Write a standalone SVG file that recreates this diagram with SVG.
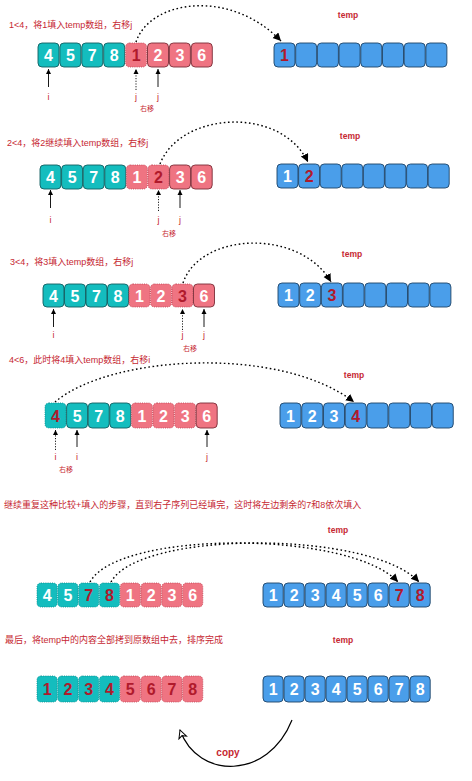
<svg xmlns="http://www.w3.org/2000/svg" width="472" height="781" viewBox="0 0 472 781">
<defs>
<style>
.bg{fill:#ffffff}
.lbl{font-family:"Liberation Sans","Noto Sans CJK SC",sans-serif;font-size:9px;fill:#C62832}
.tmp{font-family:"Liberation Sans",Arial,sans-serif;font-size:8.5px;font-weight:bold;fill:#C62832;text-anchor:middle}
.ij{font-family:"Liberation Sans",Arial,sans-serif;font-size:9px;fill:#C62832;text-anchor:middle}
.yi{font-family:"Liberation Sans","Noto Sans CJK SC",sans-serif;font-size:7px;fill:#C62832;text-anchor:middle}
.cp{font-family:"Liberation Sans",Arial,sans-serif;font-size:10px;font-weight:bold;fill:#C62832;text-anchor:middle}
.t{fill:#14BDBE;stroke:#125E60;stroke-width:0.9}
.td{fill:#14BDBE;stroke:#0E8E90;stroke-width:0.9;stroke-dasharray:1 1.2}
.p{fill:#EF7482;stroke:#7A2E38;stroke-width:0.9}
.pd{fill:#EF7482;stroke:#C24B5A;stroke-width:0.9;stroke-dasharray:1 1.2}
.b{fill:#4A9EEA;stroke:#1E4468;stroke-width:0.9}
.n{font-family:"Liberation Sans",Arial,sans-serif;font-size:16px;font-weight:bold;fill:#ffffff;text-anchor:middle}
.r{fill:#B01A2C}
.ptr{stroke:#000;stroke-width:0.9;fill:none;marker-end:url(#ah)}
.ptrd{stroke:#000;stroke-width:0.9;fill:none;stroke-dasharray:1.2 1.5;marker-end:url(#ah)}
.dc{stroke:#000;stroke-width:1.4;fill:none;stroke-dasharray:1.6 2.6;marker-end:url(#big)}
.cpa{stroke:#000;stroke-width:1.2;fill:none;marker-end:url(#open)}
</style>
<marker id="ah" markerUnits="userSpaceOnUse" markerWidth="6" markerHeight="6" refX="5" refY="3" orient="auto"><path d="M0,0.5 L5,3 L0,5.5 z" fill="#000"/></marker>
<marker id="big" markerUnits="userSpaceOnUse" markerWidth="10" markerHeight="10" refX="8" refY="4" orient="auto"><path d="M0,0 L8,4 L0,8 z" fill="#000"/></marker>
<marker id="open" markerUnits="userSpaceOnUse" markerWidth="12" markerHeight="12" refX="9" refY="5" orient="auto"><path d="M1,1 L9,5 L1,9 L3,5 z" fill="#fff" stroke="#000" stroke-width="1"/></marker>
</defs>
<rect class="bg" width="472" height="781"/>

<g id="labels">
<text class="lbl" x="9" y="28">1&lt;4，将1填入temp数组，右移j</text>
<text class="lbl" x="7" y="146">2&lt;4，将2继续填入temp数组，右移j</text>
<text class="lbl" x="10" y="265">3&lt;4，将3填入temp数组，右移j</text>
<text class="lbl" x="9" y="363">4&lt;6，此时将4填入temp数组，右移i</text>
<text class="lbl" x="4" y="508">继续重复这种比较+填入的步骤，直到右子序列已经填完，这时将左边剩余的7和8依次填入</text>
<text class="lbl" x="5" y="643">最后，将temp中的内容全部拷到原数组中去，排序完成</text>
<text class="tmp" x="348" y="18">temp</text>
<text class="tmp" x="350" y="139">temp</text>
<text class="tmp" x="352" y="257">temp</text>
<text class="tmp" x="354" y="378">temp</text>
<text class="tmp" x="338" y="533">temp</text>
<text class="tmp" x="343" y="643">temp</text>
</g>

<!-- Row 1 -->
<g id="row1-src">
<rect class="t" x="38" y="43" width="21" height="24" rx="4"/><text class="n" x="48.5" y="61">4</text>
<rect class="t" x="59.9" y="43" width="21" height="24" rx="4"/><text class="n" x="70.4" y="61">5</text>
<rect class="t" x="81.8" y="43" width="21" height="24" rx="4"/><text class="n" x="92.3" y="61">7</text>
<rect class="t" x="103.7" y="43" width="21" height="24" rx="4"/><text class="n" x="114.2" y="61">8</text>
<rect class="pd" x="125.6" y="43" width="21" height="24" rx="4"/><text class="n r" x="136.1" y="61">1</text>
<rect class="p" x="147.5" y="43" width="21" height="24" rx="4"/><text class="n" x="158" y="61">2</text>
<rect class="p" x="169.4" y="43" width="21" height="24" rx="4"/><text class="n" x="179.9" y="61">3</text>
<rect class="p" x="191.3" y="43" width="21" height="24" rx="4"/><text class="n" x="201.8" y="61">6</text>
</g>
<g id="row1-temp">
<rect class="b" x="274" y="43" width="21" height="24" rx="4"/><text class="n r" x="284.5" y="61">1</text>
<rect class="b" x="295.7" y="43" width="21" height="24" rx="4"/>
<rect class="b" x="317.4" y="43" width="21" height="24" rx="4"/>
<rect class="b" x="339.1" y="43" width="21" height="24" rx="4"/>
<rect class="b" x="360.8" y="43" width="21" height="24" rx="4"/>
<rect class="b" x="382.5" y="43" width="21" height="24" rx="4"/>
<rect class="b" x="404.2" y="43" width="21" height="24" rx="4"/>
<rect class="b" x="425.9" y="43" width="21" height="24" rx="4"/>
</g>

<!-- Row 2 -->
<g id="row2-src">
<rect class="t" x="40" y="165" width="21" height="24" rx="4"/><text class="n" x="50.5" y="183">4</text>
<rect class="t" x="61.6" y="165" width="21" height="24" rx="4"/><text class="n" x="72.1" y="183">5</text>
<rect class="t" x="83.2" y="165" width="21" height="24" rx="4"/><text class="n" x="93.7" y="183">7</text>
<rect class="t" x="104.8" y="165" width="21" height="24" rx="4"/><text class="n" x="115.3" y="183">8</text>
<rect class="pd" x="126.4" y="165" width="21" height="24" rx="4"/><text class="n" x="136.9" y="183">1</text>
<rect class="pd" x="148" y="165" width="21" height="24" rx="4"/><text class="n r" x="158.5" y="183">2</text>
<rect class="p" x="169.6" y="165" width="21" height="24" rx="4"/><text class="n" x="180.1" y="183">3</text>
<rect class="p" x="191.2" y="165" width="21" height="24" rx="4"/><text class="n" x="201.7" y="183">6</text>
</g>
<g id="row2-temp">
<rect class="b" x="277" y="164" width="21" height="24" rx="4"/><text class="n" x="287.5" y="182">1</text>
<rect class="b" x="298.6" y="164" width="21" height="24" rx="4"/><text class="n r" x="309.1" y="182">2</text>
<rect class="b" x="320.2" y="164" width="21" height="24" rx="4"/>
<rect class="b" x="341.8" y="164" width="21" height="24" rx="4"/>
<rect class="b" x="363.4" y="164" width="21" height="24" rx="4"/>
<rect class="b" x="385" y="164" width="21" height="24" rx="4"/>
<rect class="b" x="406.6" y="164" width="21" height="24" rx="4"/>
<rect class="b" x="428.2" y="164" width="21" height="24" rx="4"/>
</g>

<!-- Row 3 -->
<g id="row3-src">
<rect class="t" x="43" y="284" width="21" height="23" rx="4"/><text class="n" x="53.5" y="301.5">4</text>
<rect class="t" x="64.5" y="284" width="21" height="23" rx="4"/><text class="n" x="75" y="301.5">5</text>
<rect class="t" x="86" y="284" width="21" height="23" rx="4"/><text class="n" x="96.5" y="301.5">7</text>
<rect class="t" x="107.5" y="284" width="21" height="23" rx="4"/><text class="n" x="118" y="301.5">8</text>
<rect class="pd" x="129" y="284" width="21" height="23" rx="4"/><text class="n" x="139.5" y="301.5">1</text>
<rect class="pd" x="150.5" y="284" width="21" height="23" rx="4"/><text class="n" x="161" y="301.5">2</text>
<rect class="pd" x="172" y="284" width="21" height="23" rx="4"/><text class="n r" x="182.5" y="301.5">3</text>
<rect class="p" x="193.5" y="284" width="21" height="23" rx="4"/><text class="n" x="204" y="301.5">6</text>
</g>
<g id="row3-temp">
<rect class="b" x="278" y="283" width="21" height="24" rx="4"/><text class="n" x="288.5" y="301">1</text>
<rect class="b" x="299.7" y="283" width="21" height="24" rx="4"/><text class="n" x="310.2" y="301">2</text>
<rect class="b" x="321.4" y="283" width="21" height="24" rx="4"/><text class="n r" x="331.9" y="301">3</text>
<rect class="b" x="343.1" y="283" width="21" height="24" rx="4"/>
<rect class="b" x="364.8" y="283" width="21" height="24" rx="4"/>
<rect class="b" x="386.5" y="283" width="21" height="24" rx="4"/>
<rect class="b" x="408.2" y="283" width="21" height="24" rx="4"/>
<rect class="b" x="429.9" y="283" width="21" height="24" rx="4"/>
</g>

<!-- Row 4 -->
<g id="row4-src">
<rect class="td" x="45" y="403" width="21" height="25" rx="4"/><text class="n r" x="55.5" y="421.5">4</text>
<rect class="t" x="66.6" y="403" width="21" height="25" rx="4"/><text class="n" x="77.1" y="421.5">5</text>
<rect class="t" x="88.2" y="403" width="21" height="25" rx="4"/><text class="n" x="98.7" y="421.5">7</text>
<rect class="t" x="109.8" y="403" width="21" height="25" rx="4"/><text class="n" x="120.3" y="421.5">8</text>
<rect class="pd" x="131.4" y="403" width="21" height="25" rx="4"/><text class="n" x="141.9" y="421.5">1</text>
<rect class="pd" x="153" y="403" width="21" height="25" rx="4"/><text class="n" x="163.5" y="421.5">2</text>
<rect class="pd" x="174.6" y="403" width="21" height="25" rx="4"/><text class="n" x="185.1" y="421.5">3</text>
<rect class="p" x="196.2" y="403" width="21" height="25" rx="4"/><text class="n" x="206.7" y="421.5">6</text>
</g>
<g id="row4-temp">
<rect class="b" x="280" y="403" width="21" height="25" rx="4"/><text class="n" x="290.5" y="421.5">1</text>
<rect class="b" x="301.75" y="403" width="21" height="25" rx="4"/><text class="n" x="312.25" y="421.5">2</text>
<rect class="b" x="323.5" y="403" width="21" height="25" rx="4"/><text class="n" x="334" y="421.5">3</text>
<rect class="b" x="345.25" y="403" width="21" height="25" rx="4"/><text class="n r" x="355.75" y="421.5">4</text>
<rect class="b" x="367" y="403" width="21" height="25" rx="4"/>
<rect class="b" x="388.75" y="403" width="21" height="25" rx="4"/>
<rect class="b" x="410.5" y="403" width="21" height="25" rx="4"/>
<rect class="b" x="432.25" y="403" width="21" height="25" rx="4"/>
</g>

<!-- Row 5 -->
<g id="row5-src">
<rect class="td" x="37" y="583" width="20.2" height="24" rx="4"/><text class="n" x="47.1" y="601">4</text>
<rect class="td" x="57.8" y="583" width="20.2" height="24" rx="4"/><text class="n" x="67.9" y="601">5</text>
<rect class="td" x="78.6" y="583" width="20.2" height="24" rx="4"/><text class="n r" x="88.7" y="601">7</text>
<rect class="td" x="99.4" y="583" width="20.2" height="24" rx="4"/><text class="n r" x="109.5" y="601">8</text>
<rect class="pd" x="120.2" y="583" width="20.2" height="24" rx="4"/><text class="n" x="130.3" y="601">1</text>
<rect class="pd" x="141" y="583" width="20.2" height="24" rx="4"/><text class="n" x="151.1" y="601">2</text>
<rect class="pd" x="161.8" y="583" width="20.2" height="24" rx="4"/><text class="n" x="171.9" y="601">3</text>
<rect class="pd" x="182.6" y="583" width="20.2" height="24" rx="4"/><text class="n" x="192.7" y="601">6</text>
</g>
<g id="row5-temp">
<rect class="b" x="263" y="583" width="20.2" height="24" rx="4"/><text class="n" x="273.1" y="601">1</text>
<rect class="b" x="284" y="583" width="20.2" height="24" rx="4"/><text class="n" x="294.1" y="601">2</text>
<rect class="b" x="305" y="583" width="20.2" height="24" rx="4"/><text class="n" x="315.1" y="601">3</text>
<rect class="b" x="326" y="583" width="20.2" height="24" rx="4"/><text class="n" x="336.1" y="601">4</text>
<rect class="b" x="347" y="583" width="20.2" height="24" rx="4"/><text class="n" x="357.1" y="601">5</text>
<rect class="b" x="368" y="583" width="20.2" height="24" rx="4"/><text class="n" x="378.1" y="601">6</text>
<rect class="b" x="389" y="583" width="20.2" height="24" rx="4"/><text class="n r" x="399.1" y="601">7</text>
<rect class="b" x="410" y="583" width="20.2" height="24" rx="4"/><text class="n r" x="420.1" y="601">8</text>
</g>

<!-- Row 6 -->
<g id="row6-src">
<rect class="td" x="37" y="676" width="20.2" height="26" rx="4"/><text class="n r" x="47.1" y="695">1</text>
<rect class="td" x="57.8" y="676" width="20.2" height="26" rx="4"/><text class="n r" x="67.9" y="695">2</text>
<rect class="td" x="78.6" y="676" width="20.2" height="26" rx="4"/><text class="n r" x="88.7" y="695">3</text>
<rect class="td" x="99.4" y="676" width="20.2" height="26" rx="4"/><text class="n r" x="109.5" y="695">4</text>
<rect class="pd" x="120.2" y="676" width="20.2" height="26" rx="4"/><text class="n r" x="130.3" y="695">5</text>
<rect class="pd" x="141" y="676" width="20.2" height="26" rx="4"/><text class="n r" x="151.1" y="695">6</text>
<rect class="pd" x="161.8" y="676" width="20.2" height="26" rx="4"/><text class="n r" x="171.9" y="695">7</text>
<rect class="pd" x="182.6" y="676" width="20.2" height="26" rx="4"/><text class="n r" x="192.7" y="695">8</text>
</g>
<g id="row6-temp">
<rect class="b" x="263" y="676" width="20.2" height="26" rx="4"/><text class="n" x="273.1" y="695">1</text>
<rect class="b" x="284" y="676" width="20.2" height="26" rx="4"/><text class="n" x="294.1" y="695">2</text>
<rect class="b" x="305" y="676" width="20.2" height="26" rx="4"/><text class="n" x="315.1" y="695">3</text>
<rect class="b" x="326" y="676" width="20.2" height="26" rx="4"/><text class="n" x="336.1" y="695">4</text>
<rect class="b" x="347" y="676" width="20.2" height="26" rx="4"/><text class="n" x="357.1" y="695">5</text>
<rect class="b" x="368" y="676" width="20.2" height="26" rx="4"/><text class="n" x="378.1" y="695">6</text>
<rect class="b" x="389" y="676" width="20.2" height="26" rx="4"/><text class="n" x="399.1" y="695">7</text>
<rect class="b" x="410" y="676" width="20.2" height="26" rx="4"/><text class="n" x="420.1" y="695">8</text>
</g>

<g id="pointers">
<line class="ptr" x1="48.5" y1="87" x2="48.5" y2="69"/>
<line class="ptrd" x1="136" y1="90" x2="136" y2="69"/>
<line class="ptr" x1="158" y1="87" x2="158" y2="69"/>
<text class="ij" x="48.5" y="100">i</text>
<text class="ij" x="136" y="100">j</text>
<text class="ij" x="158" y="100">j</text>
<text class="yi" x="147" y="111">右移</text>

<line class="ptr" x1="50.5" y1="208" x2="50.5" y2="190"/>
<line class="ptrd" x1="158.5" y1="211" x2="158.5" y2="190"/>
<line class="ptr" x1="180" y1="208" x2="180" y2="190"/>
<text class="ij" x="50.5" y="223">i</text>
<text class="ij" x="158.5" y="223">j</text>
<text class="ij" x="180" y="223">j</text>
<text class="yi" x="169" y="236">右移</text>

<line class="ptr" x1="53.5" y1="327" x2="53.5" y2="309"/>
<line class="ptrd" x1="182.5" y1="330" x2="182.5" y2="309"/>
<line class="ptr" x1="204" y1="327" x2="204" y2="309"/>
<text class="ij" x="53.5" y="338">i</text>
<text class="ij" x="182.5" y="338">j</text>
<text class="ij" x="204" y="338">j</text>
<text class="yi" x="190" y="351">右移</text>

<line class="ptrd" x1="55.5" y1="450" x2="55.5" y2="430"/>
<line class="ptr" x1="77" y1="447" x2="77" y2="430"/>
<line class="ptr" x1="207" y1="447" x2="207" y2="430"/>
<text class="ij" x="55.5" y="460">i</text>
<text class="ij" x="77" y="460">i</text>
<text class="ij" x="207" y="460">j</text>
<text class="yi" x="66" y="472">右移</text>
</g>

<g id="connectors">
<path class="dc" d="M136,42 C150,0 230,-12 281,41"/>
<path class="dc" d="M160,164 C180,112 280,105 308,162"/>
<path class="dc" d="M183,283 C200,232 300,228 331,282"/>
<path class="dc" d="M55,402 C110,355 280,345 354,402"/>
<path class="dc" d="M90,582 C118,530 350,530 398,582"/>
<path class="dc" d="M111,582 C139,530 371,530 419,582"/>
<path class="cpa" d="M292,720 C268,780 198,780 180,730"/>
<text class="cp" x="228" y="756">copy</text>
</g>
</svg>
